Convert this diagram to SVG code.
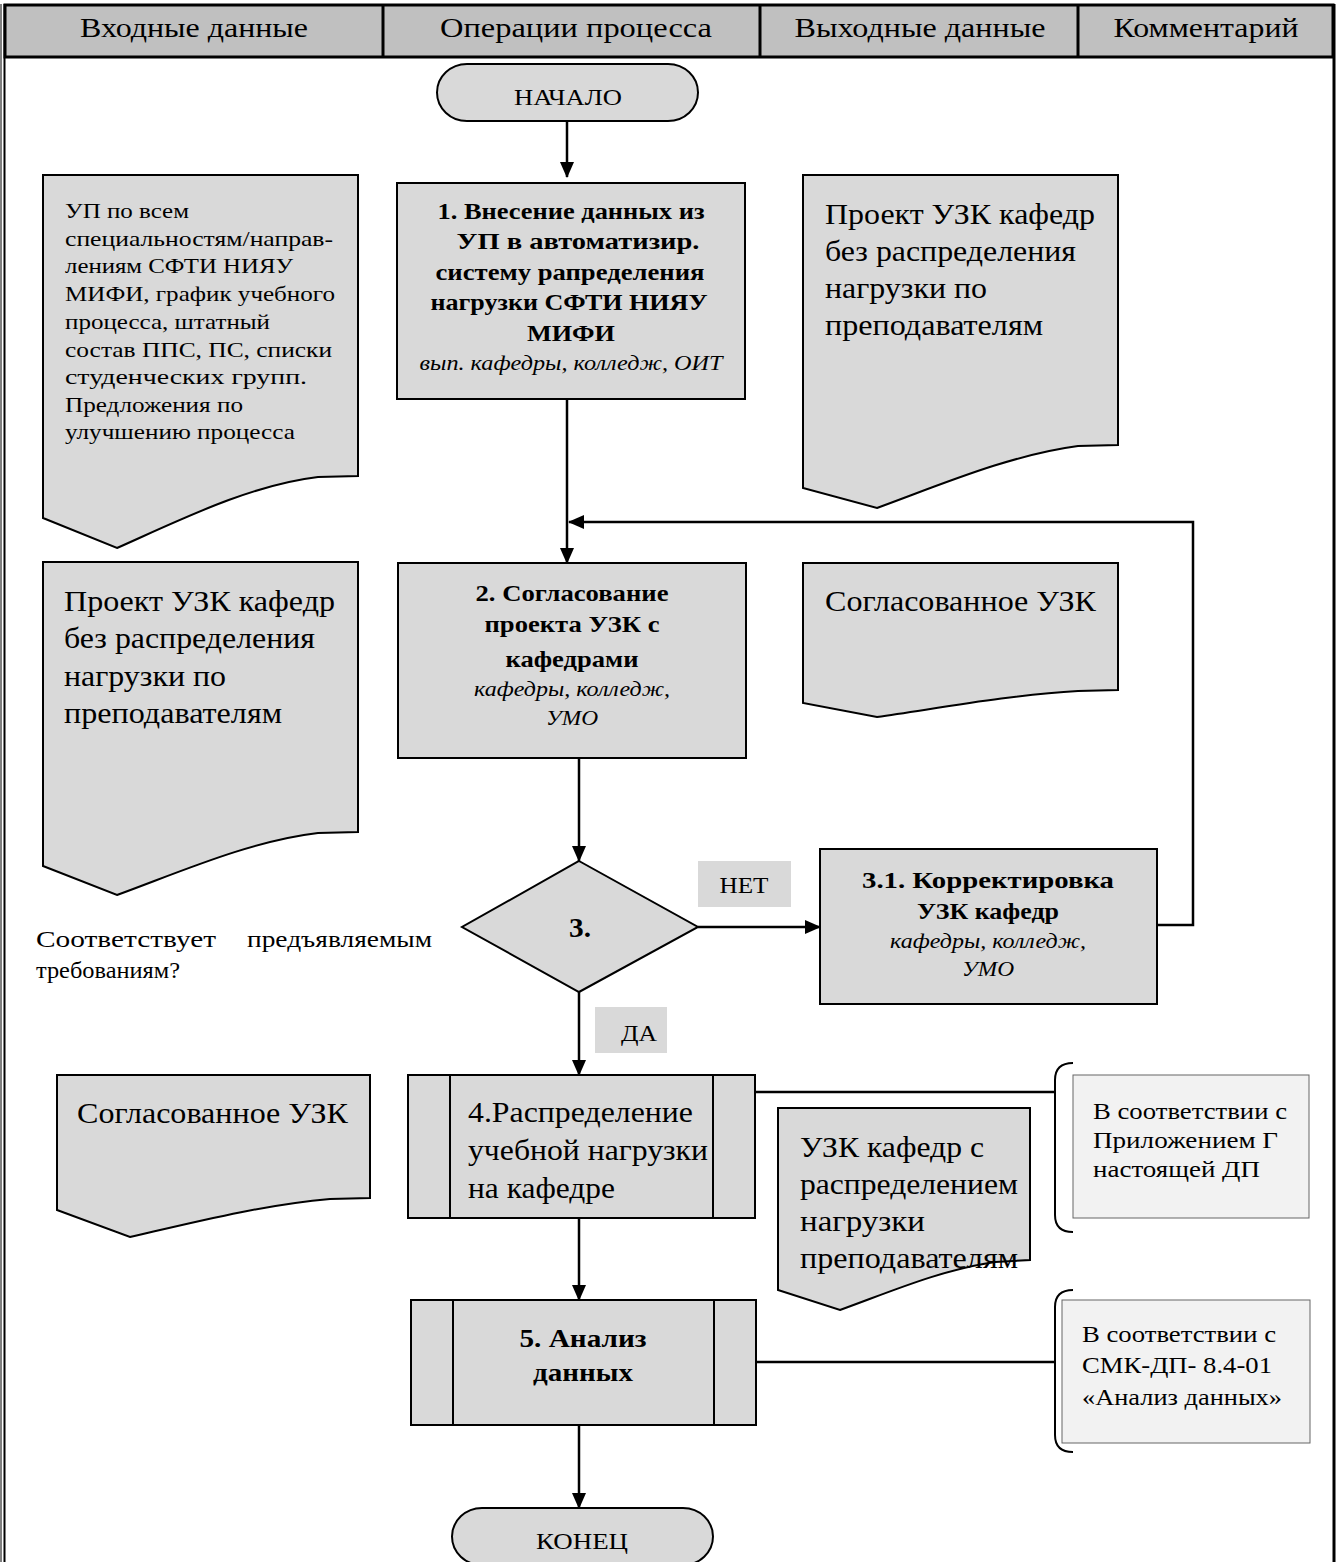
<svg xmlns="http://www.w3.org/2000/svg" width="1336" height="1562" viewBox="0 0 1336 1562">
<defs>
<marker id="ah" markerWidth="16" markerHeight="14" refX="15" refY="7" orient="auto" markerUnits="userSpaceOnUse" viewBox="0 0 16 14">
<path d="M0,0 L16,7 L0,14 Z" fill="#000"/>
</marker>
<style>
text{font-family:"Liberation Serif","Times New Roman",serif;fill:#000}
.hd{font-size:28px;text-anchor:middle}
.node{fill:#d9d9d9;stroke:#000;stroke-width:2}
.doc{fill:#d9d9d9;stroke:#000;stroke-width:2}
.cm{fill:#f2f2f2;stroke:#666;stroke-width:1}
.b{font-weight:bold;font-size:24px;text-anchor:middle}
.i{font-style:italic;font-size:21px;text-anchor:middle}
.big{font-size:30px}
.sm{font-size:22px}
.cmt{font-size:23px}
.lbl{fill:#d9d9d9}
.ln{fill:none;stroke:#000;stroke-width:2.5}
.br{fill:none;stroke:#000;stroke-width:2}
</style>
</defs>
<rect width="1336" height="1562" fill="#fff"/>
<g id="frame">
<line x1="1" y1="4" x2="1" y2="1562" stroke="#000" stroke-width="1"/>
<line x1="4.5" y1="4" x2="4.5" y2="1562" stroke="#000" stroke-width="2"/>
<line x1="1334" y1="4" x2="1334" y2="1562" stroke="#000" stroke-width="3"/>
</g>
<g id="header">
<rect x="5" y="5" width="1328" height="52" fill="#c0c0c0" stroke="#000" stroke-width="3"/>
<line x1="383" y1="5" x2="383" y2="57" stroke="#000" stroke-width="3"/>
<line x1="760" y1="5" x2="760" y2="57" stroke="#000" stroke-width="3"/>
<line x1="1078" y1="5" x2="1078" y2="57" stroke="#000" stroke-width="3"/>
<text class="hd" x="194" y="37" textLength="228" lengthAdjust="spacingAndGlyphs">Входные данные</text>
<text class="hd" x="576" y="37" textLength="272" lengthAdjust="spacingAndGlyphs">Операции процесса</text>
<text class="hd" x="920" y="37" textLength="251" lengthAdjust="spacingAndGlyphs">Выходные данные</text>
<text class="hd" x="1206" y="37" textLength="185" lengthAdjust="spacingAndGlyphs">Комментарий</text>
</g>
<g id="connectors">
<line class="ln" x1="567" y1="121" x2="567" y2="177" marker-end="url(#ah)"/>
<line class="ln" x1="567" y1="399" x2="567" y2="563" marker-end="url(#ah)"/>
<polyline class="ln" points="1157,925 1193,925 1193,522 569,522" marker-end="url(#ah)"/>
<line class="ln" x1="579" y1="758" x2="579" y2="861" marker-end="url(#ah)"/>
<line class="ln" x1="698" y1="927" x2="820" y2="927" marker-end="url(#ah)"/>
<line class="ln" x1="579" y1="992" x2="579" y2="1075" marker-end="url(#ah)"/>
<line class="ln" x1="579" y1="1218" x2="579" y2="1300" marker-end="url(#ah)"/>
<line class="ln" x1="579" y1="1425" x2="579" y2="1508" marker-end="url(#ah)"/>
<line class="ln" x1="755" y1="1092" x2="1054" y2="1092"/>
<line class="ln" x1="756" y1="1362" x2="1054" y2="1362"/>
</g>
<g id="start">
<rect class="node" x="437" y="64" width="261" height="57" rx="30"/>
<text x="568" y="105" style="font-size:24px;text-anchor:middle" textLength="108" lengthAdjust="spacingAndGlyphs">НАЧАЛО</text>
</g>
<g id="step1">
<rect class="node" x="397" y="183" width="348" height="216"/>
<text class="b" x="571" y="219" textLength="267" lengthAdjust="spacingAndGlyphs">1. Внесение данных из</text>
<text class="b" x="578" y="249" textLength="243" lengthAdjust="spacingAndGlyphs">УП в автоматизир.</text>
<text class="b" x="570" y="280" textLength="269" lengthAdjust="spacingAndGlyphs">систему рапределения</text>
<text class="b" x="569" y="310" textLength="277" lengthAdjust="spacingAndGlyphs">нагрузки СФТИ НИЯУ</text>
<text class="b" x="571" y="341" textLength="88" lengthAdjust="spacingAndGlyphs">МИФИ</text>
<text class="i" x="571" y="370" textLength="303" lengthAdjust="spacingAndGlyphs">вып. кафедры, колледж, ОИТ</text>
</g>
<g id="input1">
<path class="doc" d="M43,175 H358 V476 L318,477 C250,485 180,520 117,548 L43,518 Z"/>
<text class="sm" x="65" y="218" textLength="124" lengthAdjust="spacingAndGlyphs">УП по всем</text>
<text class="sm" x="65" y="246" textLength="268" lengthAdjust="spacingAndGlyphs">специальностям/направ-</text>
<text class="sm" x="65" y="273" textLength="228" lengthAdjust="spacingAndGlyphs">лениям СФТИ НИЯУ</text>
<text class="sm" x="65" y="301" textLength="270" lengthAdjust="spacingAndGlyphs">МИФИ, график учебного</text>
<text class="sm" x="65" y="329" textLength="205" lengthAdjust="spacingAndGlyphs">процесса, штатный</text>
<text class="sm" x="65" y="357" textLength="267" lengthAdjust="spacingAndGlyphs">состав ППС, ПС, списки</text>
<text class="sm" x="65" y="384" textLength="242" lengthAdjust="spacingAndGlyphs">студенческих групп.</text>
<text class="sm" x="65" y="412" textLength="178" lengthAdjust="spacingAndGlyphs">Предложения по</text>
<text class="sm" x="65" y="439" textLength="230" lengthAdjust="spacingAndGlyphs">улучшению процесса</text>
</g>
<g id="output1">
<path class="doc" d="M803,175 H1118 V445 L1078,446 C1010,455 940,485 877,508 L803,488 Z"/>
<text class="big" x="825" y="224" textLength="270" lengthAdjust="spacingAndGlyphs">Проект УЗК кафедр</text>
<text class="big" x="825" y="261" textLength="251" lengthAdjust="spacingAndGlyphs">без распределения</text>
<text class="big" x="825" y="298" textLength="162" lengthAdjust="spacingAndGlyphs">нагрузки по</text>
<text class="big" x="825" y="335" textLength="218" lengthAdjust="spacingAndGlyphs">преподавателям</text>
</g>
<g id="step2">
<rect class="node" x="398" y="563" width="348" height="195"/>
<text class="b" x="572" y="601" textLength="193" lengthAdjust="spacingAndGlyphs">2. Согласование</text>
<text class="b" x="572" y="632" textLength="175" lengthAdjust="spacingAndGlyphs">проекта УЗК с</text>
<text class="b" x="572" y="667" textLength="133" lengthAdjust="spacingAndGlyphs">кафедрами</text>
<text class="i" x="572" y="696" textLength="196" lengthAdjust="spacingAndGlyphs">кафедры, колледж,</text>
<text class="i" x="572" y="725" textLength="52" lengthAdjust="spacingAndGlyphs">УМО</text>
</g>
<g id="input2">
<path class="doc" d="M43,562 H358 V832 L318,833 C250,841 180,872 117,895 L43,866 Z"/>
<text class="big" x="64" y="611" textLength="271" lengthAdjust="spacingAndGlyphs">Проект УЗК кафедр</text>
<text class="big" x="64" y="648" textLength="251" lengthAdjust="spacingAndGlyphs">без распределения</text>
<text class="big" x="64" y="686" textLength="162" lengthAdjust="spacingAndGlyphs">нагрузки по</text>
<text class="big" x="64" y="723" textLength="218" lengthAdjust="spacingAndGlyphs">преподавателям</text>
</g>
<g id="output2">
<path class="doc" d="M803,563 H1118 V690 L1078,691 C1010,695 940,708 877,717 L803,703 Z"/>
<text class="big" x="825" y="611" textLength="271" lengthAdjust="spacingAndGlyphs">Согласованное УЗК</text>
</g>
<g id="decision3">
<polygon class="node" points="579,861 698,927 579,992 462,927"/>
<text x="580" y="937" style="font-size:28px;font-weight:bold;text-anchor:middle" textLength="22" lengthAdjust="spacingAndGlyphs">3.</text>
<text style="font-size:24px"><tspan x="36" y="947" textLength="180" lengthAdjust="spacingAndGlyphs">Соответствует</tspan> <tspan x="247" y="947" textLength="185" lengthAdjust="spacingAndGlyphs">предъявляемым</tspan></text>
<text x="36" y="978" style="font-size:24px" textLength="144" lengthAdjust="spacingAndGlyphs">требованиям?</text>
</g>
<g id="label-no">
<rect class="lbl" x="698" y="861" width="93" height="46"/>
<text x="744" y="893" style="font-size:23px;text-anchor:middle" textLength="49" lengthAdjust="spacingAndGlyphs">НЕТ</text>
</g>
<g id="label-yes">
<rect class="lbl" x="595" y="1007" width="72" height="46"/>
<text x="639" y="1041" style="font-size:23px;text-anchor:middle" textLength="36" lengthAdjust="spacingAndGlyphs">ДА</text>
</g>
<g id="step31">
<rect class="node" x="820" y="849" width="337" height="155"/>
<text class="b" x="988" y="888" textLength="252" lengthAdjust="spacingAndGlyphs">3.1. Корректировка</text>
<text class="b" x="988" y="919" textLength="142" lengthAdjust="spacingAndGlyphs">УЗК кафедр</text>
<text class="i" x="988" y="948" textLength="196" lengthAdjust="spacingAndGlyphs">кафедры, колледж,</text>
<text class="i" x="988" y="976" textLength="52" lengthAdjust="spacingAndGlyphs">УМО</text>
</g>
<g id="step4">
<rect class="node" x="408" y="1075" width="347" height="143"/>
<line x1="450" y1="1075" x2="450" y2="1218" stroke="#000" stroke-width="2"/>
<line x1="713" y1="1075" x2="713" y2="1218" stroke="#000" stroke-width="2"/>
<text class="big" x="468" y="1122" textLength="225" lengthAdjust="spacingAndGlyphs">4.Распределение</text>
<text class="big" x="468" y="1160" textLength="240" lengthAdjust="spacingAndGlyphs">учебной нагрузки</text>
<text class="big" x="468" y="1198" textLength="147" lengthAdjust="spacingAndGlyphs">на кафедре</text>
</g>
<g id="input4">
<path class="doc" d="M57,1075 H370 V1198 L330,1199 C262,1205 195,1222 130,1237 L57,1210 Z"/>
<text class="big" x="77" y="1123" textLength="271" lengthAdjust="spacingAndGlyphs">Согласованное УЗК</text>
</g>
<g id="output4">
<path class="doc" d="M778,1108 H1030 V1260 L995,1262 C940,1270 890,1292 840,1310 L778,1290 Z"/>
<text class="big" x="800" y="1157" textLength="184" lengthAdjust="spacingAndGlyphs">УЗК кафедр с</text>
<text class="big" x="800" y="1194" textLength="218" lengthAdjust="spacingAndGlyphs">распределением</text>
<text class="big" x="800" y="1231" textLength="125" lengthAdjust="spacingAndGlyphs">нагрузки</text>
<text class="big" x="800" y="1268" textLength="218" lengthAdjust="spacingAndGlyphs">преподавателям</text>
</g>
<g id="comment4">
<path class="br" d="M1073,1063 Q1055,1063 1055,1080 V1215 Q1055,1232 1073,1232"/>
<rect class="cm" x="1073" y="1075" width="236" height="143"/>
<text class="cmt" x="1093" y="1119" textLength="194" lengthAdjust="spacingAndGlyphs">В соответствии с</text>
<text class="cmt" x="1093" y="1148" textLength="185" lengthAdjust="spacingAndGlyphs">Приложением Г</text>
<text class="cmt" x="1093" y="1177" textLength="167" lengthAdjust="spacingAndGlyphs">настоящей ДП</text>
</g>
<g id="step5">
<rect class="node" x="411" y="1300" width="345" height="125"/>
<line x1="453" y1="1300" x2="453" y2="1425" stroke="#000" stroke-width="2"/>
<line x1="714" y1="1300" x2="714" y2="1425" stroke="#000" stroke-width="2"/>
<text class="b" x="583" y="1347" style="font-size:26px" textLength="127" lengthAdjust="spacingAndGlyphs">5. Анализ</text>
<text class="b" x="583" y="1381" style="font-size:26px" textLength="100" lengthAdjust="spacingAndGlyphs">данных</text>
</g>
<g id="comment5">
<path class="br" d="M1073,1290 Q1055,1290 1055,1307 V1435 Q1055,1452 1073,1452"/>
<rect class="cm" x="1062" y="1300" width="248" height="143"/>
<text class="cmt" x="1082" y="1342" textLength="194" lengthAdjust="spacingAndGlyphs">В соответствии с</text>
<text class="cmt" x="1082" y="1373" textLength="190" lengthAdjust="spacingAndGlyphs">СМК-ДП- 8.4-01</text>
<text class="cmt" x="1082" y="1405" textLength="200" lengthAdjust="spacingAndGlyphs">«Анализ данных»</text>
</g>
<g id="end">
<rect class="node" x="452" y="1508" width="261" height="57" rx="30"/>
<text x="582" y="1549" style="font-size:24px;text-anchor:middle" textLength="92" lengthAdjust="spacingAndGlyphs">КОНЕЦ</text>
</g>
</svg>
